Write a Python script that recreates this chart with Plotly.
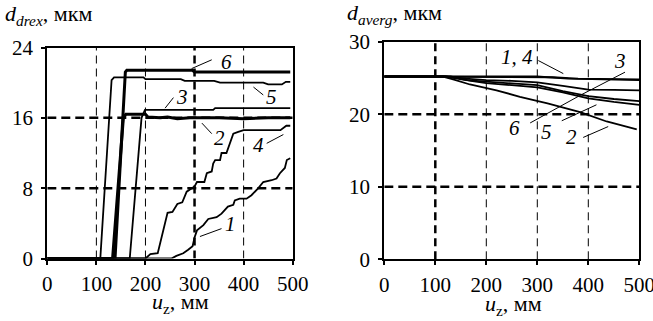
import plotly.graph_objects as go

# ---------------- data: left panel (d_drex) ----------------
u1 = [0, 253, 263, 277, 287, 296, 300, 305, 318, 328, 345, 355, 368, 379, 382, 392, 406, 416, 430, 440, 457, 467, 474, 484, 488, 495]
d1 = [0, 0, 0.3, 0.6, 1.0, 1.4, 2.4, 3.2, 3.8, 4.5, 4.7, 5.1, 5.9, 6.1, 6.6, 6.8, 6.8, 7.2, 8.0, 8.7, 8.9, 9.1, 9.7, 10.3, 11.2, 11.4]
u2 = [0, 133, 155, 160, 200, 205, 230, 245, 265, 290, 350, 400, 450, 495]
d2 = [0, 0, 16.0, 16.4, 16.4, 16.1, 16.0, 16.1, 15.9, 16.0, 16.0, 15.9, 16.0, 16.0]
u3 = [0, 168, 192, 199, 338, 342, 495]
d3 = [0, 0, 16.0, 16.9, 16.9, 17.1, 17.1]
u4 = [0, 200, 210, 225, 245, 255, 265, 275, 284, 300, 305, 320, 325, 335, 338, 342, 352, 355, 365, 372, 379, 389, 400, 475, 487, 495]
d4 = [0, 0, 0.5, 0.6, 5.2, 5.3, 6.2, 6.4, 7.6, 8.2, 8.7, 8.7, 9.7, 9.9, 10.8, 11.2, 11.2, 12.0, 12.0, 13.1, 14.2, 14.4, 14.6, 14.6, 15.1, 15.1]
u5 = [0, 108, 131, 136, 196, 200, 272, 280, 340, 352, 440, 450, 478, 486, 495]
d5 = [0, 0, 20.3, 20.6, 20.6, 20.4, 20.4, 20.2, 20.2, 20.0, 20.0, 19.8, 19.8, 20.1, 20.1]
u6 = [0, 138, 159, 162, 296, 300, 495]
d6 = [0, 0, 21.2, 21.4, 21.4, 21.2, 21.2]

# ---------------- data: right panel (d_averg) ----------------
r_u1 = [0, 110, 330, 380, 500]
r_d1 = [25.2, 25.2, 25.1, 24.9, 24.8]
r_u4 = [0, 110, 300, 360, 500]
r_d4 = [25.2, 25.2, 25.2, 24.9, 24.7]
r_u2 = [0, 115, 135, 168, 220, 266, 320, 384, 436, 495]
r_d2 = [25.2, 25.2, 24.8, 24.1, 23.3, 22.4, 21.5, 20.3, 19.0, 17.9]
r_u3 = [0, 120, 160, 200, 250, 300, 350, 400, 450, 500]
r_d3 = [25.2, 25.2, 24.9, 24.7, 24.6, 24.4, 23.9, 23.4, 23.35, 23.3]
r_u6 = [0, 120, 160, 200, 250, 300, 350, 400, 450, 500]
r_d6 = [25.2, 25.2, 24.7, 24.5, 24.3, 24.0, 23.2, 22.5, 22.1, 21.8]
r_u5 = [0, 130, 170, 200, 250, 300, 350, 400, 450, 500]
r_d5 = [25.2, 25.2, 24.6, 24.3, 24.0, 23.7, 23.0, 22.2, 21.7, 21.3]

x_ticks = [0, 100, 200, 300, 400, 500]
left_y_ticks = [0, 8, 16, 24]
right_y_ticks = [0, 10, 20, 30]

# grid lines (value lists)
left_vgrid_thin = [100, 200, 400]
left_vgrid_thick = [300]
left_hgrid_thick = [8, 16]
right_vgrid_thin = [200, 300, 400]
right_vgrid_thick = [100]
right_hgrid_thick = [10, 20]

FONT = "'Liberation Serif', 'DejaVu Serif', serif"
W, H = 653, 321

fig = go.Figure()

def add_line(x, y, xa, ya, width):
    fig.add_trace(go.Scatter(x=x, y=y, mode="lines", xaxis=xa, yaxis=ya,
                             line=dict(color="black", width=width),
                             hoverinfo="skip"))

# left traces
add_line(u1, d1, "x", "y", 1.8)
add_line(u4, d4, "x", "y", 1.8)
add_line(u3, d3, "x", "y", 1.8)
add_line(u5, d5, "x", "y", 1.8)
add_line(u2, d2, "x", "y", 3)
add_line(u6, d6, "x", "y", 3)
# right traces
add_line(r_u1, r_d1, "x2", "y2", 1.8)
add_line(r_u4, r_d4, "x2", "y2", 1.8)
add_line(r_u3, r_d3, "x2", "y2", 1.8)
add_line(r_u6, r_d6, "x2", "y2", 1.8)
add_line(r_u5, r_d5, "x2", "y2", 1.8)
add_line(r_u2, r_d2, "x2", "y2", 1.8)

shapes = []
def vgrid(vals, xr, yr, ymax, w):
    for v in vals:
        shapes.append(dict(type="line", xref=xr, yref=yr, x0=v, x1=v, y0=0, y1=ymax,
                           line=dict(color="black", width=w, dash="8px,5px"), layer="below"))
def hgrid(vals, xr, yr, xmax, w):
    for v in vals:
        shapes.append(dict(type="line", xref=xr, yref=yr, x0=0, x1=xmax, y0=v, y1=v,
                           line=dict(color="black", width=w, dash="9px,5px"), layer="below"))

vgrid(left_vgrid_thin, "x", "y", 24, 1)
vgrid(left_vgrid_thick, "x", "y", 24, 2.5)
hgrid(left_hgrid_thick, "x", "y", 500, 2.5)
vgrid(right_vgrid_thin, "x2", "y2", 30, 1)
vgrid(right_vgrid_thick, "x2", "y2", 30, 2.5)
hgrid(right_hgrid_thick, "x2", "y2", 500, 2.5)

# curve labels and leaders
labels_left = [("6", 366, 22.4, (294, 21.6, 335, 22.6)),
               ("5", 456, 18.4, (420, 19.5, 440, 18.6)),
               ("3", 275, 18.4, (240, 17.1, 257, 18.3)),
               ("2", 350, 13.7, (315, 15.4, 335, 14.2)),
               ("4", 430, 12.9, (447, 13.1, 481, 14.1)),
               ("1", 373, 3.9, (311, 2.5, 355, 3.4))]
labels_right = [("1, 4", 260, 27.9, (302, 27.4, 351, 25.6)),
                ("3", 462, 27.4, (384, 22.6, 472, 25.8)),
                ("6", 256, 18.1, (286, 18.8, 384, 22.6)),
                ("5", 318, 17.6, (348, 19.1, 416, 21.3)),
                ("2", 367, 16.9, (390, 16.8, 439, 18.3))]

annotations = []
for labs, xr, yr in ((labels_left, "x", "y"), (labels_right, "x2", "y2")):
    for t, lx, ly, (a, b, c, d) in labs:
        annotations.append(dict(text="<i>%s</i>" % t, x=lx, y=ly, xref=xr, yref=yr,
                                showarrow=False, font=dict(family=FONT, size=21, color="black")))
        shapes.append(dict(type="line", xref=xr, yref=yr, x0=a, y0=b, x1=c, y1=d,
                           line=dict(color="black", width=1)))

# axis titles
annotations.append(dict(text="<i>d</i><sub><i>drex</i></sub>, мкм", x=3 / W, y=1 - 15 / H,
                        xref="paper", yref="paper", xanchor="left", yanchor="middle",
                        showarrow=False, font=dict(family=FONT, size=22, color="black")))
annotations.append(dict(text="<i>d</i><sub><i>averg</i></sub>, мкм", x=345 / W, y=1 - 14 / H,
                        xref="paper", yref="paper", xanchor="left", yanchor="middle",
                        showarrow=False, font=dict(family=FONT, size=22, color="black")))
annotations.append(dict(text="<i>u</i><sub>z</sub>, мм", x=180 / W, y=1 - 303 / H,
                        xref="paper", yref="paper", xanchor="center", yanchor="middle",
                        showarrow=False, font=dict(family=FONT, size=22, color="black")))
annotations.append(dict(text="<i>u</i><sub>z</sub>, мм", x=513 / W, y=1 - 305 / H,
                        xref="paper", yref="paper", xanchor="center", yanchor="middle",
                        showarrow=False, font=dict(family=FONT, size=22, color="black")))

axis_common = dict(showgrid=False, zeroline=False, showline=True, mirror=True,
                   linecolor="black", linewidth=2, ticks="outside", ticklen=4,
                   tickwidth=1.5, tickcolor="black", automargin=False,
                   ticklabeloverflow="allow",
                   tickfont=dict(family=FONT, size=21, color="black"))

fig.update_layout(
    width=W, height=H, margin=dict(l=0, r=0, t=0, b=0, autoexpand=False),
    font=dict(family=FONT, color="black"),
    paper_bgcolor="white", plot_bgcolor="white", showlegend=False,
    xaxis=dict(domain=[47.3 / W, 292.7 / W], range=[0, 500], tickvals=x_ticks, anchor="y",
               ticklabelstandoff=1, **axis_common),
    yaxis=dict(domain=[1 - 258.5 / H, 1 - 47.5 / H], range=[0, 24], tickvals=left_y_ticks, anchor="x",
               ticklabelstandoff=4, **axis_common),
    xaxis2=dict(domain=[384.3 / W, 639.3 / W], range=[0, 500], tickvals=x_ticks, anchor="y2",
                ticklabelstandoff=1, **axis_common),
    yaxis2=dict(domain=[1 - 259.3 / H, 1 - 41.7 / H], range=[0, 30], tickvals=right_y_ticks, anchor="x2",
                ticklabelstandoff=4, **axis_common),
    shapes=shapes, annotations=annotations,
)

fig.write_html("out.html", config={"displayModeBar": False},
               post_script="document.body.style.margin='0';document.body.style.padding='0';")
